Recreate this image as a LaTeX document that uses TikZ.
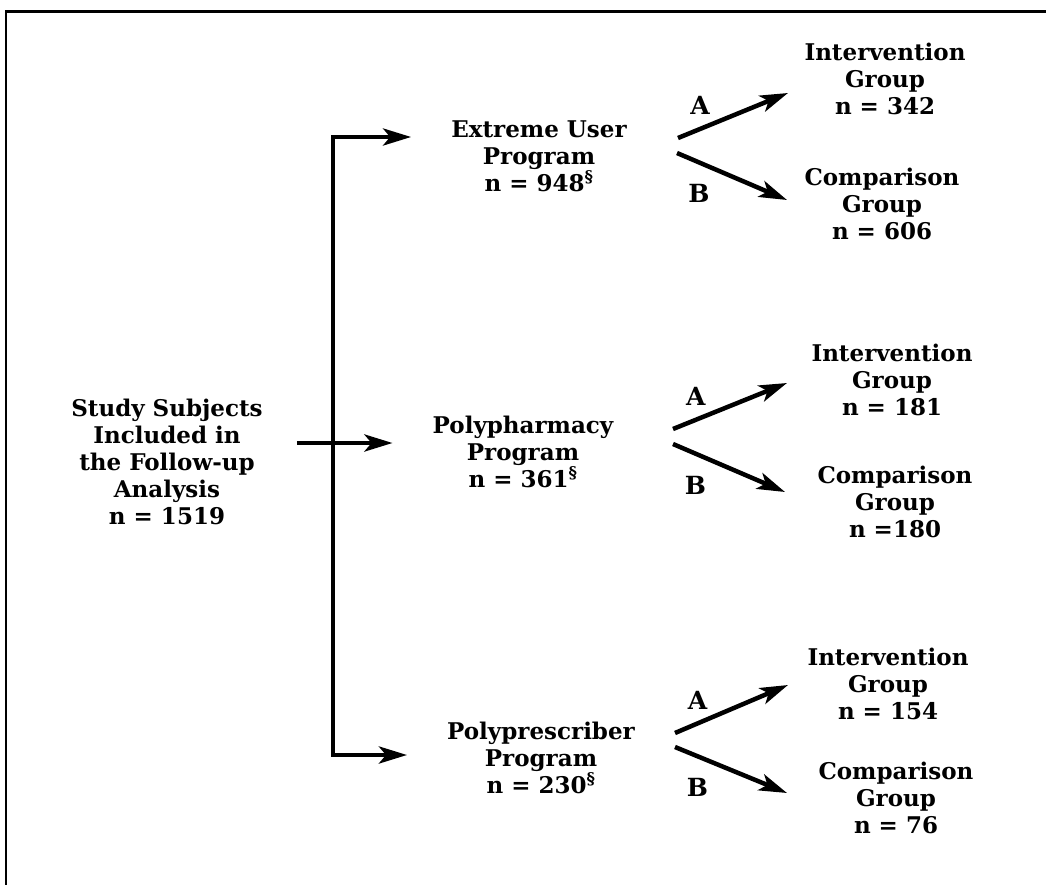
\documentclass[tikz,border=0pt]{standalone}
\usepackage{fontspec}
\setmainfont{DejaVu Serif}
\usetikzlibrary{arrows.meta}
\tikzset{
  >={Stealth[length=28pt,width=17pt,inset=7pt]},
  txt/.style  = {align=center, font=\bfseries\fontsize{23}{27}\selectfont, inner sep=0pt},
  prog/.style = {txt, inner xsep=40pt},
  lbl/.style  = {font=\bfseries\fontsize{25}{27}\selectfont, inner sep=0pt},
  flow/.style = {->, line width=4.5pt},
}
\begin{document}
\begin{tikzpicture}[x=1pt,y=-1pt]
  \useasboundingbox (0,0) rectangle (1046,885);
  % frame
  \draw[line width=3pt] (5,12) -- (1046,12);
  \draw[line width=2pt] (6,12) -- (6,885);
  % nodes
  \node[txt, inner xsep=34pt] (total) at (167,462) {Study Subjects\\Included in\\the Follow-up\\Analysis\\n = 1519};
  \node[prog] (eup) at (539,156) {Extreme User\\Program\\n = 948\textsuperscript{§}};
  \node[prog] (ppp) at (523,452) {Polypharmacy\\Program\\n = 361\textsuperscript{§}};
  \node[prog] (prp) at (541,758) {Polyprescriber\\Program\\n = 230\textsuperscript{§}};
  \node[txt] (eint) at (885,79)  {Intervention\\Group\\n = 342};
  \node[txt] (ecmp) at (882,204) {Comparison\\Group\\n = 606};
  \node[txt] (pint) at (892,380) {Intervention\\Group\\n = 181};
  \node[txt] (pcmp) at (895,502) {Comparison\\Group\\n =180};
  \node[txt] (rint) at (888,684) {Intervention\\Group\\n = 154};
  \node[txt] (rcmp) at (896,798) {Comparison\\Group\\n = 76};
  % trunk
  \coordinate (top) at (333,137);
  \coordinate (mid) at (333,443);
  \coordinate (bot) at (333,755);
  \draw[flow, <->] (eup.west |- top) -- (top) -- (bot) -- (prp.west |- bot);
  \draw[flow] (total.east |- mid) -- (ppp.west |- mid);
  % A / B branches
  \coordinate (eA1) at (678,138); \coordinate (eA2) at (788,93);
  \coordinate (eB1) at (677,153); \coordinate (eB2) at (787,200);
  \coordinate (pA1) at (673,429); \coordinate (pA2) at (787,383);
  \coordinate (pB1) at (673,444); \coordinate (pB2) at (785,492);
  \coordinate (rA1) at (675,733); \coordinate (rA2) at (788,685);
  \coordinate (rB1) at (675,747); \coordinate (rB2) at (787,793);
  \draw[flow] (eA1) -- node[lbl, pos=0.2, above=12pt] {A} (eA2);
  \draw[flow] (eB1) -- node[lbl, pos=0.2, below=20pt] {B} (eB2);
  \draw[flow] (pA1) -- node[lbl, pos=0.2, above=12pt] {A} (pA2);
  \draw[flow] (pB1) -- node[lbl, pos=0.2, below=20pt] {B} (pB2);
  \draw[flow] (rA1) -- node[lbl, pos=0.2, above=12pt] {A} (rA2);
  \draw[flow] (rB1) -- node[lbl, pos=0.2, below=20pt] {B} (rB2);
\end{tikzpicture}
\end{document}
